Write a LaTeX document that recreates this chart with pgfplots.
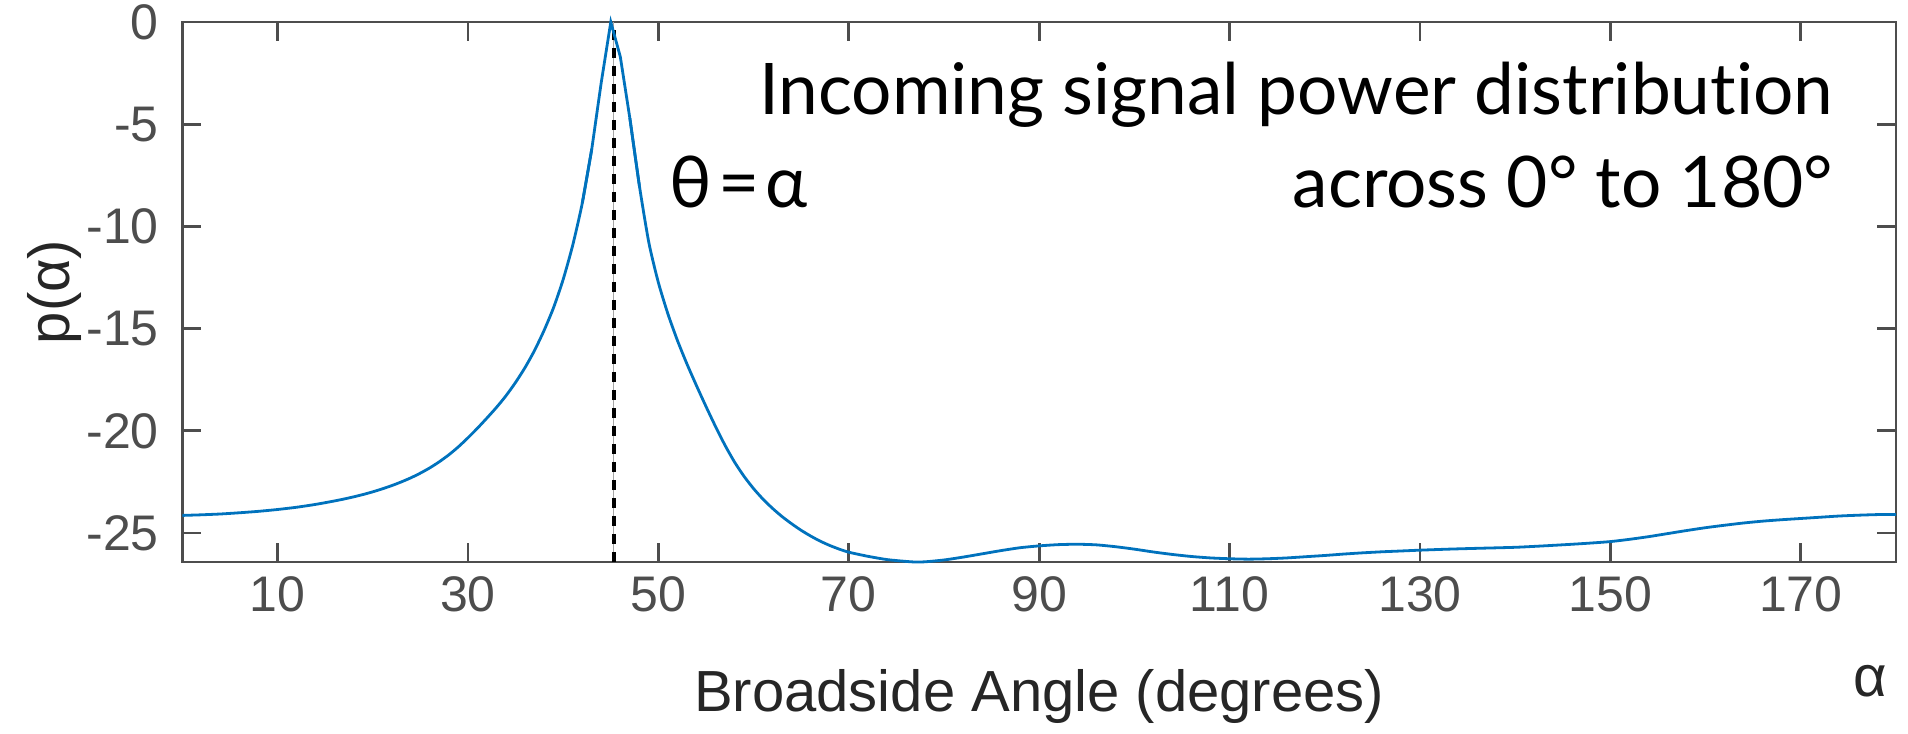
\documentclass[border=0pt]{standalone}
\usepackage{fontspec}
\setmainfont{Liberation Sans}
\newfontfamily\lato[Ligatures={NoCommon,NoDiscretionary,NoRare}]{Lato}
\usepackage{pgfplots}
\pgfplotsset{compat=1.18}
\usetikzlibrary{calc}
\definecolor{mlblue}{RGB}{0,114,189}
\definecolor{axgray}{RGB}{77,77,77}
\definecolor{lblgray}{RGB}{38,38,38}

\pgfplotstableread{
ang   p
0     -24.14
2     -24.11
4     -24.07
6     -24.01
8     -23.94
10    -23.85
12    -23.74
14    -23.60
16    -23.43
17    -23.335
18    -23.23
19    -23.115
20    -22.985
21    -22.84
22    -22.68
23    -22.50
24    -22.30
25    -22.07
26    -21.81
27    -21.51
28    -21.17
29    -20.78
30    -20.34
31    -19.87
32    -19.37
33    -18.85
34    -18.28
35    -17.63
36    -16.90
37    -16.06
38    -15.08
39    -13.96
40    -12.59
41    -10.92
42    -8.87
43    -6.22
44    -2.95
45    0
46    -1.70
47    -4.70
48    -8.00
49    -10.80
50    -12.75
51    -14.28
52    -15.58
53    -16.73
54    -17.79
55    -18.81
56    -19.79
57    -20.71
58    -21.53
59    -22.23
60    -22.83
61    -23.35
62    -23.80
63    -24.20
64    -24.55
65    -24.87
66    -25.15
67    -25.40
68    -25.61
69    -25.79
70    -25.94
72    -26.14
74    -26.30
76    -26.39
77    -26.42
78    -26.41
80    -26.32
82    -26.18
84    -26.02
86    -25.86
88    -25.72
90    -25.63
92    -25.57
94    -25.55
96    -25.58
98    -25.67
100   -25.79
102   -25.93
104   -26.05
106   -26.15
108   -26.22
110   -26.26
112   -26.28
114   -26.26
116   -26.22
118   -26.16
120   -26.10
122   -26.03
124   -25.97
126   -25.92
128   -25.88
130   -25.84
133   -25.79
136   -25.75
140   -25.70
143   -25.63
146   -25.55
148   -25.49
150   -25.42
152   -25.31
154   -25.18
156   -25.03
158   -24.88
160   -24.74
162   -24.62
164   -24.51
166   -24.42
168   -24.35
170   -24.29
172   -24.23
174   -24.17
176   -24.13
178   -24.10
180   -24.09
}\powertab

\begin{document}
\begin{tikzpicture}
\begin{axis}[
  scale only axis,
  width=428.4pt, height=135pt,
  xmin=0, xmax=180,
  ymin=-26.42, ymax=0,
  xtick={10,30,...,170},
  ytick={-25,-20,...,0},
  tick align=inside,
  major tick length=4.75pt,
  axis line style={axgray, line width=0.7pt},
  tick style={axgray, line width=0.7pt},
  /pgf/number format/assume math mode=true,
  tick label style={font=\fontsize{12.5}{15}\selectfont, text=axgray},
  yticklabel style={xshift=-2.4pt},
  xlabel={Broadside Angle (degrees)},
  ylabel={p(α)},
  label style={font=\fontsize{14.5}{17}\selectfont, text=lblgray},
  xlabel style={at={(axis description cs:0.5,0)}, anchor=center, yshift=-33.5pt},
  ylabel style={at={(axis description cs:0,0.5)}, anchor=center, yshift=32pt},
  clip=false,
]
\coordinate (bl) at (rel axis cs:0,0);
\addplot[gray!70, line width=0.4pt] coordinates {(45.3,-26.42) (45.3,0)};
\addplot[black, line width=1pt, dash pattern=on 2.5pt off 2pt] coordinates {(45.3,-26.42) (45.3,0)};
% tails drawn smooth, the sharp peak with straight segments
\addplot[mlblue, line width=0.7pt, smooth, tension=0.4, restrict x to domain=0:43] table[x=ang, y=p] {\powertab};
\addplot[mlblue, line width=0.7pt, restrict x to domain=42:48] table[x=ang, y=p] {\powertab};
\addplot[mlblue, line width=0.7pt, smooth, tension=0.4, restrict x to domain=47:180] table[x=ang, y=p] {\powertab};
\node[anchor=east, inner sep=0pt, font=\lato\fontsize{17.8}{21}\selectfont] at (rel axis cs:0.9638,0.865) {Incoming signal power distribution};
\node[anchor=east, inner sep=0pt, font=\lato\fontsize{17.8}{21}\selectfont] at (rel axis cs:0.9638,0.703) {across 0° to 180°};
\node[anchor=west, inner sep=0pt, font=\lato\fontsize{17.8}{21}\selectfont] at (rel axis cs:0.284,0.703) {θ\kern1.5pt=\kern1.5ptα};
\node[anchor=center, font=\fontsize{14.5}{17}\selectfont, text=lblgray] at (rel axis cs:0.985,-0.22) {α};
\end{axis}
\pgfresetboundingbox
\useasboundingbox ($(bl)+(-45.6pt,-42.75pt)$) rectangle ($(bl)+(431.4pt,140.5pt)$);
\end{tikzpicture}
\end{document}
